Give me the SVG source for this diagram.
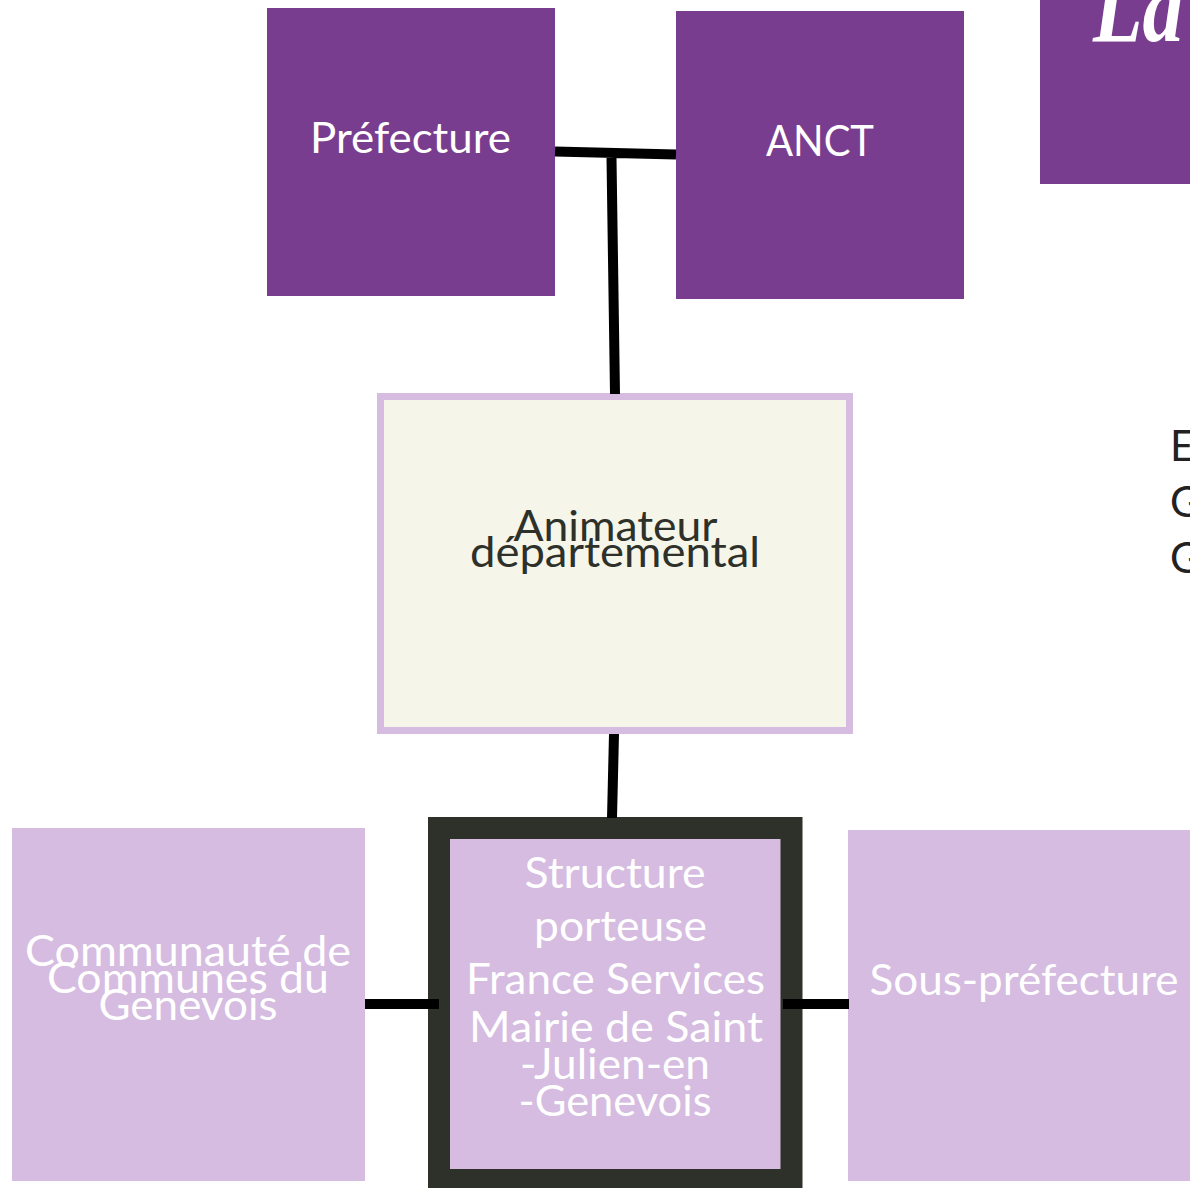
<svg xmlns="http://www.w3.org/2000/svg" width="1190" height="1188" viewBox="0 0 1190 1188">
<style>
.t{font-family:"Lato","Open Sans","Liberation Sans",sans-serif;font-size:42px;text-anchor:middle;fill:#fff}
.d{fill:#2e302a}
.p{fill:#793d8f}
.l{fill:#d5bce0}
.c{stroke:#000;stroke-width:10;fill:none}
</style>
<rect width="1190" height="1188" fill="#fff"/>
<g id="prefecture"><rect class="p" x="267" y="8" width="288" height="288"/><text class="t" x="410.500" y="153" textLength="201" lengthAdjust="spacingAndGlyphs">Préfecture</text></g>
<g id="anct"><rect class="p" x="676" y="11" width="288" height="288"/><text class="t" x="820" y="156" textLength="108" lengthAdjust="spacingAndGlyphs">ANCT</text></g>
<g id="logo"><rect class="p" x="1040" y="-10" width="150" height="194"/><text x="1093" y="41" font-family="'Liberation Serif',serif" font-size="100" font-weight="bold" font-style="italic" fill="#fff" textLength="90" lengthAdjust="spacingAndGlyphs">La</text></g>
<g id="animateur"><rect x="380.500" y="396.500" width="469" height="334" fill="#f5f5e9" stroke="#d5bce0" stroke-width="7"/>
<text class="t d" x="615.500" y="541" textLength="204" lengthAdjust="spacingAndGlyphs">Animateur</text><text class="t d" x="615" y="567" textLength="290" lengthAdjust="spacingAndGlyphs">départemental</text></g>
<g id="structure"><rect x="439" y="828" width="352.500" height="352" fill="#d5bce0" stroke="#2e302a" stroke-width="22"/>
<text class="t" x="615" y="888" textLength="181" lengthAdjust="spacingAndGlyphs">Structure</text>
<text class="t" x="620.500" y="941" textLength="173" lengthAdjust="spacingAndGlyphs">porteuse</text>
<text class="t" x="615.500" y="994" textLength="299" lengthAdjust="spacingAndGlyphs">France Services</text>
<text class="t" x="616" y="1042" textLength="294" lengthAdjust="spacingAndGlyphs">Mairie de Saint</text>
<text class="t" x="615" y="1079" textLength="190" lengthAdjust="spacingAndGlyphs">-Julien-en</text>
<text class="t" x="615" y="1116" textLength="193" lengthAdjust="spacingAndGlyphs">-Genevois</text></g>
<g id="communaute"><rect class="l" x="12" y="828" width="353" height="353"/>
<text class="t" x="188" y="966" textLength="326" lengthAdjust="spacingAndGlyphs">Communauté de</text>
<text class="t" x="188" y="993" textLength="282" lengthAdjust="spacingAndGlyphs">Communes du</text>
<text class="t" x="188" y="1020" textLength="179" lengthAdjust="spacingAndGlyphs">Genevois</text></g>
<g id="sous-prefecture"><rect class="l" x="848" y="830" width="342" height="351"/>
<text class="t" x="1024" y="995" textLength="309" lengthAdjust="spacingAndGlyphs">Sous-préfecture</text></g>
<g id="side-text" style="font-family:Lato,'Open Sans',sans-serif;font-size:42px;fill:#222"><text x="1170" y="461">E</text><text x="1170" y="517">G</text><text x="1170" y="573">G</text></g>
<g id="connectors">
<path class="c" d="M555 151.500L676 154.500M611.500 158L615 394M614 734L612 818M365 1004H439M783 1004H849"/>
</g>
</svg>
